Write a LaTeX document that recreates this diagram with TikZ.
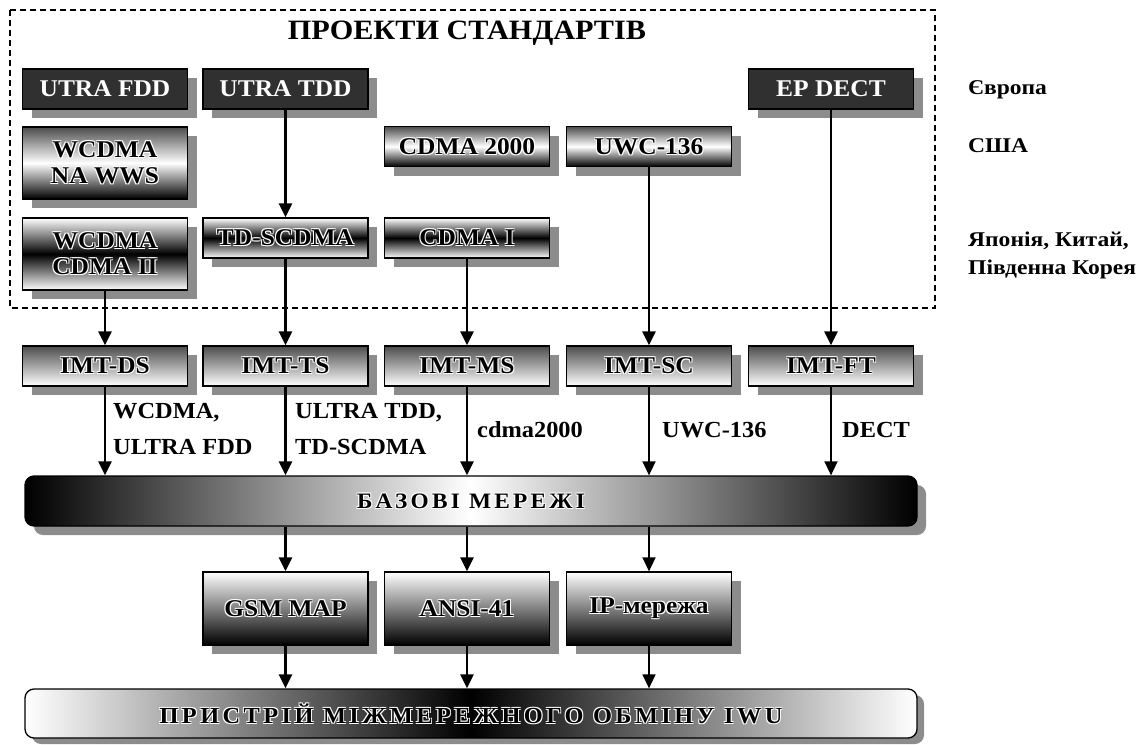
\documentclass[tikz,border=0pt]{standalone}
\usepackage{fontspec}
\setmainfont{Liberation Serif}
\newfontfamily\spacedfont[LetterSpace=14]{Liberation Serif}
\usetikzlibrary{arrows.meta,shadows}
\newcommand{\sx}[1]{\scalebox{1.06}[1]{#1}}
\newcommand{\hl}[1]{\leavevmode
  \rlap{\color{white}\hspace{-1pt}\raisebox{-1pt}{\sx{#1}}}%
  \rlap{\color{white}\hspace{0.9pt}\raisebox{0.9pt}{\sx{#1}}}%
  \rlap{\color{white}\hspace{-1pt}\raisebox{0.9pt}{\sx{#1}}}%
  \rlap{\color{white}\hspace{0.9pt}\raisebox{-1pt}{\sx{#1}}}%
  \sx{#1}}
\definecolor{darkbox}{HTML}{303030}
\begin{document}
\begin{tikzpicture}[x=1pt,y=-1pt,
  sh/.style={drop shadow={shadow xshift=9pt,shadow yshift=-9pt,fill=black!45,opacity=1}},
  box/.style={sh,draw=black,line width=1.3pt,minimum width=165pt,inner sep=0pt,align=center,
    font=\bfseries\fontsize{24}{26}\selectfont},
  darkb/.style={box,fill=darkbox,text=white,minimum height=40pt},
  gwb/.style={box,top color=black!70,bottom color=black,middle color=white,minimum height=72pt},
  gwbs/.style={gwb,minimum height=40pt},
  wbw/.style={box,top color=white,bottom color=white,middle color=black,minimum height=72pt},
  wbws/.style={wbw,minimum height=40pt},
  imt/.style={box,top color=black!70,bottom color=white,minimum height=40pt},
  net/.style={box,top color=white,bottom color=black,minimum height=73pt},
  arr/.style={-{Triangle[width=13pt,length=14pt]},line width=2.6pt},
  tarr/.style={-{Triangle[width=13pt,length=14pt]},line width=1.6pt},
  lbl/.style={font=\bfseries\fontsize{23}{36}\selectfont,align=left,inner sep=0pt,anchor=west},
  reg/.style={font=\bfseries\fontsize{21}{28}\selectfont,align=left,inner sep=0pt,anchor=west}]
\useasboundingbox (0,0) rectangle (1147,744);

% dashed frame
\draw[line width=1.6pt,dash pattern=on 6pt off 4pt] (10,10) rectangle (935,308);
\node[font=\bfseries\fontsize{28}{30}\selectfont] (title) at (467,33) {\scalebox{1.08}[1]{ПРОЕКТИ СТАНДАРТІВ}};

% top row
\node[darkb] (utrafdd) at (105,89) {\sx{UTRA FDD}};
\node[darkb] (utratdd) at (285.5,89) {\sx{UTRA TDD}};
\node[darkb] (epdect) at (831,89) {\sx{EP DECT}};

\node[gwb] (naws) at (105,163) {\hl{WCDMA}\\\hl{NA WWS}};
\node[gwbs] (cdma2000) at (467,146.5) {\hl{CDMA 2000}};
\node[gwbs] (uwc) at (649,146.5) {\hl{UWC-136}};

\node[wbw] (cdmaii) at (105,254) {\hl{WCDMA}\\\hl{CDMA II}};
\node[wbws] (tdscdma) at (285.5,238) {\hl{TD-SCDMA}};
\node[wbws] (cdmai) at (467,238) {\hl{CDMA I}};

% region labels
\node[reg] (eu) at (968,90) {\scalebox{1.12}[1]{Європа}};
\node[reg] (usa) at (968,146) {\scalebox{1.12}[1]{США}};
\node[reg] (asia) at (968,255) {\scalebox{1.12}[1]{Японія, Китай,}\\\scalebox{1.12}[1]{Південна Корея}};

% IMT row
\node[imt] (imtds) at (105,366) {\hl{IMT-DS}};
\node[imt] (imtts) at (285.5,366) {\hl{IMT-TS}};
\node[imt] (imtms) at (467,366) {\hl{IMT-MS}};
\node[imt] (imtsc) at (649,366) {\hl{IMT-SC}};
\node[imt] (imtft) at (831,366) {\hl{IMT-FT}};

% base networks
\node[sh,draw=black,line width=1.3pt,rounded corners=9pt,minimum width=892pt,minimum height=50pt,
  left color=black,right color=black,middle color=white,
  font=\spacedfont\bfseries\fontsize{22}{24}\selectfont] (base) at (471,501) {\hl{БАЗОВІ МЕРЕЖІ}};

% networks
\node[net] (gsm) at (285.5,608.5) {\hl{GSM MAP}};
\node[net] (ansi) at (467,608.5) {\hl{ANSI-41}};
\node[net] (ip) at (649,608.5) {\hl{IP-мережа}};

% IWU
\node[drop shadow={shadow xshift=7pt,shadow yshift=-6pt,fill=black!45,opacity=1},
  draw=black,line width=1.3pt,rounded corners=9pt,minimum width=892pt,minimum height=49pt,
  left color=white,right color=white,middle color=black,
  font=\spacedfont\bfseries\fontsize{23}{25}\selectfont] (iwu) at (471,713.5) {\hl{ПРИСТРІЙ МІЖМЕРЕЖНОГО ОБМІНУ IWU}};

% arrows in frame
\draw[arr] (utratdd.south) -- (tdscdma.north);
\draw[arr] (cdmaii.south) -- (imtds.north);
\draw[arr] (tdscdma.south) -- (imtts.north);
\draw[arr] (cdmai.south) -- (imtms.north);
\draw[arr] (uwc.south) -- (imtsc.north);
\draw[arr] (epdect.south) -- (imtft.north);

% IMT to base
\draw[arr] (imtds.south) -- (imtds.south |- base.north);
\draw[arr] (imtts.south) -- (imtts.south |- base.north);
\draw[arr] (imtms.south) -- (imtms.south |- base.north);
\draw[tarr] (imtsc.south) -- (imtsc.south |- base.north);
\draw[tarr] (imtft.south) -- (imtft.south |- base.north);

\node[lbl] (l1) at (113,429) {\sx{WCDMA,}\\\sx{ULTRA FDD}};
\node[lbl] (l2) at (295,429) {\sx{ULTRA TDD,}\\\sx{TD-SCDMA}};
\node[lbl] (l3) at (477,430) {\sx{cdma2000}};
\node[lbl] (l4) at (662,430) {\sx{UWC-136}};
\node[lbl] (l5) at (842,430) {\sx{DECT}};

% base to networks
\draw[arr] (base.south -| gsm.north) -- (gsm.north);
\draw[arr] (base.south -| ansi.north) -- (ansi.north);
\draw[tarr] (base.south -| ip.north) -- (ip.north);

% networks to IWU
\draw[arr] (gsm.south) -- (gsm.south |- iwu.north);
\draw[arr] (ansi.south) -- (ansi.south |- iwu.north);
\draw[tarr] (ip.south) -- (ip.south |- iwu.north);
\end{tikzpicture}
\end{document}
